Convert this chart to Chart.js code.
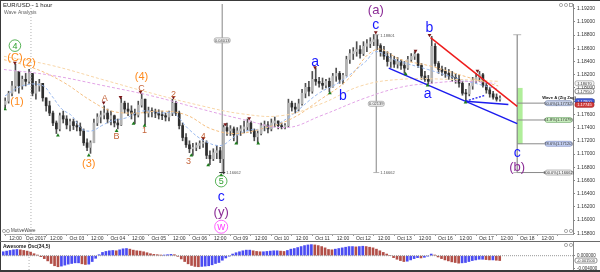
<!DOCTYPE html>
<html>
<head>
<meta charset="utf-8">
<script src="https://cdn.jsdelivr.net/npm/chart.js@4.4.1/dist/chart.umd.min.js"></script>
<style>
    body { margin: 0; background: #fff; }
    #wrap { position: relative; width: 600px; height: 272px; overflow: hidden; background: #fff; }
    #priceChart { position: absolute; left: 0; top: 0; }
    #oscChart { position: absolute; left: 0; top: 242px; }
    .edge { position: absolute; background: #3a3a3a; }
</style>
</head>
<body>
<div id="wrap">
    <canvas id="priceChart" width="600" height="242"></canvas>
    <canvas id="oscChart" width="600" height="28"></canvas>
    <div class="edge" style="left:0;top:0;width:600px;height:1px"></div>
    <div class="edge" style="left:0;top:0;width:1px;height:272px"></div>
    <div class="edge" style="left:0;top:241px;width:600px;height:1px;background:#6a6a6a"></div>
    <div class="edge" style="left:0;top:270px;width:600px;height:2px"></div>
</div>
<script>
// EUR/USD, 2-hour candles (hour 0 = Oct 02 00:00, weekends removed)
const candleStartHour = -18;
const candleStepHours = 2;
const firstOpen = 1.1775;

const closes = [
    1.1780, 1.1792, 1.1803, 1.1825, 1.1803, 1.1813, 1.1810, 1.1822, 1.1792, 1.1803,
    1.1807, 1.1785, 1.1773, 1.1762, 1.1747, 1.1738, 1.1758, 1.1753, 1.1744, 1.1749,
    1.1743, 1.1741, 1.1735, 1.1717, 1.1710, 1.1717, 1.1747, 1.1756, 1.1759, 1.1762,
    1.1753, 1.1758, 1.1747, 1.1744, 1.1777, 1.1768, 1.1765, 1.1762, 1.1759, 1.1774,
    1.1783, 1.1762, 1.1765, 1.1764, 1.1762, 1.1759, 1.1758, 1.1756, 1.1762, 1.1777,
    1.1762, 1.1743, 1.1725, 1.1714, 1.1708, 1.1710, 1.1713, 1.1716, 1.1717, 1.1698,
    1.1693, 1.1702, 1.1705, 1.1693, 1.1740, 1.1735, 1.1738, 1.1729, 1.1735, 1.1738,
    1.1741, 1.1747, 1.1735, 1.1726, 1.1731, 1.1743, 1.1744, 1.1738, 1.1747, 1.1750,
    1.1743, 1.1741, 1.1743, 1.1777, 1.1771, 1.1768, 1.1776, 1.1792, 1.1801, 1.1795,
    1.1813, 1.1810, 1.1807, 1.1804, 1.1810, 1.1801, 1.1818, 1.1822, 1.1813, 1.1819,
    1.1843, 1.1852, 1.1855, 1.1858, 1.1852, 1.1863, 1.1867, 1.1870, 1.1873, 1.1864,
    1.1855, 1.1848, 1.1840, 1.1843, 1.1836, 1.1840, 1.1834, 1.1830, 1.1843, 1.1848,
    1.1851, 1.1834, 1.1818, 1.1813, 1.1810, 1.1863, 1.1837, 1.1828, 1.1825, 1.1822,
    1.1818, 1.1816, 1.1813, 1.1807, 1.1792, 1.1791, 1.1803, 1.1812, 1.1816, 1.1820,
    1.1804, 1.1797, 1.1791, 1.1786, 1.1783, 1.1783
];
const highs = [
    1.1785, 1.1795, 1.1810, 1.1836, 1.1822, 1.1818, 1.1822, 1.1828, 1.1818, 1.1810,
    1.1813, 1.1807, 1.1783, 1.1780, 1.1765, 1.1750, 1.1762, 1.1765, 1.1758, 1.1753,
    1.1753, 1.1750, 1.1747, 1.1738, 1.1723, 1.1720, 1.1753, 1.1761, 1.1765, 1.1773,
    1.1768, 1.1765, 1.1759, 1.1753, 1.1785, 1.1780, 1.1777, 1.1773, 1.1768, 1.1780,
    1.1792, 1.1783, 1.1771, 1.1770, 1.1768, 1.1767, 1.1765, 1.1762, 1.1765, 1.1783,
    1.1780, 1.1765, 1.1747, 1.1731, 1.1720, 1.1716, 1.1717, 1.1720, 1.1723, 1.1720,
    1.1705, 1.1708, 1.1713, 1.1710, 1.1744, 1.1747, 1.1743, 1.1741, 1.1740, 1.1743,
    1.1750, 1.1753, 1.1750, 1.1738, 1.1735, 1.1747, 1.1750, 1.1749, 1.1753, 1.1756,
    1.1750, 1.1747, 1.1746, 1.1783, 1.1780, 1.1777, 1.1783, 1.1798, 1.1807, 1.1810,
    1.1825, 1.1830, 1.1816, 1.1815, 1.1813, 1.1815, 1.1822, 1.1830, 1.1825, 1.1822,
    1.1848, 1.1858, 1.1861, 1.1870, 1.1864, 1.1870, 1.1873, 1.1876, 1.1881, 1.1880,
    1.1867, 1.1863, 1.1855, 1.1852, 1.1848, 1.1846, 1.1843, 1.1840, 1.1848, 1.1852,
    1.1855, 1.1852, 1.1837, 1.1825, 1.1819, 1.1878, 1.1867, 1.1840, 1.1833, 1.1831,
    1.1828, 1.1825, 1.1822, 1.1819, 1.1810, 1.1798, 1.1807, 1.1816, 1.1822, 1.1825,
    1.1822, 1.1807, 1.1801, 1.1795, 1.1791, 1.1788
];
const lows = [
    1.1770, 1.1777, 1.1788, 1.1795, 1.1792, 1.1798, 1.1803, 1.1807, 1.1788, 1.1783,
    1.1795, 1.1780, 1.1765, 1.1758, 1.1743, 1.1731, 1.1735, 1.1747, 1.1738, 1.1735,
    1.1737, 1.1735, 1.1728, 1.1713, 1.1705, 1.1701, 1.1717, 1.1743, 1.1747, 1.1753,
    1.1747, 1.1744, 1.1741, 1.1738, 1.1743, 1.1762, 1.1758, 1.1753, 1.1746, 1.1756,
    1.1771, 1.1744, 1.1756, 1.1756, 1.1755, 1.1753, 1.1752, 1.1750, 1.1750, 1.1758,
    1.1758, 1.1738, 1.1720, 1.1710, 1.1702, 1.1698, 1.1705, 1.1708, 1.1710, 1.1693,
    1.1684, 1.1690, 1.1693, 1.1687, 1.1670, 1.1728, 1.1728, 1.1720, 1.1716, 1.1728,
    1.1732, 1.1735, 1.1731, 1.1720, 1.1717, 1.1729, 1.1735, 1.1732, 1.1735, 1.1741,
    1.1738, 1.1738, 1.1738, 1.1741, 1.1765, 1.1762, 1.1765, 1.1774, 1.1785, 1.1788,
    1.1792, 1.1804, 1.1801, 1.1798, 1.1800, 1.1794, 1.1801, 1.1810, 1.1807, 1.1806,
    1.1818, 1.1837, 1.1843, 1.1848, 1.1845, 1.1849, 1.1855, 1.1861, 1.1864, 1.1858,
    1.1848, 1.1843, 1.1833, 1.1831, 1.1831, 1.1830, 1.1828, 1.1822, 1.1828, 1.1840,
    1.1843, 1.1831, 1.1813, 1.1810, 1.1806, 1.1807, 1.1833, 1.1822, 1.1819, 1.1816,
    1.1813, 1.1810, 1.1807, 1.1801, 1.1789, 1.1780, 1.1788, 1.1798, 1.1807, 1.1810,
    1.1801, 1.1792, 1.1786, 1.1783, 1.1780, 1.1780
];
// Awesome Oscillator (34,5)
const aoValues = [
    0.0012, 0.0014, 0.0016, 0.0018, 0.0019, 0.0018, 0.0016, 0.0014, 0.0011, 0.0006,
    0.0002, -0.0003, -0.0009, -0.0016, -0.0024, -0.0031, -0.0034, -0.0032, -0.0029, -0.0026,
    -0.0024, -0.0022, -0.0022, -0.0025, -0.0027, -0.0026, -0.0018, -0.0008, 0.0003, 0.0010,
    0.0013, 0.0015, 0.0016, 0.0015, 0.0018, 0.0021, 0.0022, 0.0020, 0.0017, 0.0015,
    0.0014, 0.0012, 0.0009, 0.0006, 0.0004, 0.0003, 0.0002, 0.0002, 0.0003, 0.0004,
    0.0003, -0.0002, -0.0010, -0.0018, -0.0025, -0.0030, -0.0033, -0.0034, -0.0033, -0.0032,
    -0.0031, -0.0028, -0.0024, -0.0021, -0.0014, -0.0007, -0.0001, 0.0005, 0.0009, 0.0012,
    0.0015, 0.0017, 0.0017, 0.0015, 0.0013, 0.0012, 0.0012, 0.0013, 0.0014, 0.0015,
    0.0015, 0.0014, 0.0013, 0.0016, 0.0020, 0.0022, 0.0025, 0.0028, 0.0031, 0.0033,
    0.0034, 0.0033, 0.0031, 0.0028, 0.0024, 0.0019, 0.0018, 0.0020, 0.0022, 0.0024,
    0.0026, 0.0028, 0.0028, 0.0027, 0.0028, 0.0029, 0.0028, 0.0026, 0.0024, 0.0020,
    0.0015, 0.0010, 0.0005, 0.0000, -0.0006, -0.0011, -0.0015, -0.0018, -0.0017, -0.0013,
    -0.0009, -0.0006, -0.0007, -0.0005, -0.0001, 0.0005, 0.0002, -0.0004, -0.0009, -0.0013,
    -0.0016, -0.0019, -0.0021, -0.0023, -0.0022, -0.0021, -0.0018, -0.0015, -0.0013, -0.0011,
    -0.0011, -0.0012, -0.0013, -0.0013, -0.0014, -0.0015
];

// moving averages (dashed), read at a few points
const maFastHours = [-18.1, -8.2, 3.5, 9.3, 15.2, 21.0, 26.9, 32.7, 38.6, 44.4, 53.2, 61.9, 73.6, 80.6, 89.4, 98.7, 108.6, 115.7, 123.2, 132.0, 139.6, 149.5, 165.3, 178.7, 193.3, 199.2, 209.7, 229.6, 248.8, 271.0];
const maFastPrices = [1.1788, 1.1803, 1.1804, 1.1788, 1.1768, 1.1758, 1.1738, 1.1735, 1.1743, 1.1750, 1.1755, 1.1765, 1.1762, 1.1762, 1.1738, 1.1720, 1.1713, 1.1725, 1.1735, 1.1738, 1.1743, 1.1758, 1.1791, 1.1810, 1.1840, 1.1855, 1.1843, 1.1828, 1.1813, 1.1798];
const maMidHours = [-19, -2.3, 15.2, 32.7, 44.4, 59.0, 73.6, 88.2, 102.8, 117.4, 132.0, 149.5, 167.1, 181.7, 199.2, 213.8, 231.3, 254.7, 271.0];
const maMidPrices = [1.1843, 1.1831, 1.1810, 1.1780, 1.1765, 1.1762, 1.1765, 1.1759, 1.1738, 1.1731, 1.1738, 1.1753, 1.1783, 1.1810, 1.1858, 1.1843, 1.1833, 1.1815, 1.1803];
const maSlowHours = [-19, 9.3, 38.6, 67.8, 97.0, 120.3, 143.7, 167.1, 190.4, 213.8, 243.0, 271.0];
const maSlowPrices = [1.1848, 1.1834, 1.1813, 1.1792, 1.1773, 1.1761, 1.1758, 1.1776, 1.1803, 1.1813, 1.1813, 1.1810];
const maLongHours = [-19, 9.3, 38.6, 67.8, 97.0, 120.3, 146.6, 167.1, 193.3, 213.8, 231.3, 248.8, 269.3];
const maLongPrices = [1.1828, 1.1819, 1.1804, 1.1788, 1.1768, 1.1753, 1.1740, 1.1758, 1.1785, 1.1801, 1.1807, 1.1810, 1.1807];

// swing markers
const peakHours = [-12.3, 39.7, 49.6, 61.3, 80.6, 98.1, 111.0, 125.0, 163.6, 199.2, 222.5, 230.7, 258.8];
const peakPrices = [1.1838, 1.1778, 1.1786, 1.1794, 1.1786, 1.1724, 1.1745, 1.1754, 1.1831, 1.1884, 1.1856, 1.1880, 1.1826];
const troughHours = [-18.1, 12.9, 31.0, 47.3, 57.2, 63.7, 91.1, 101.0, 108.6, 117.4, 130.3, 172.3, 216.7, 229.6, 251.8];
const troughPrices = [1.1768, 1.1728, 1.1698, 1.1735, 1.1746, 1.1743, 1.1698, 1.1683, 1.1668, 1.1716, 1.1716, 1.1792, 1.1821, 1.1804, 1.1778];

// Elliott wave labels
const waveText = ['4', '(C)', '(2)', '(1)', 'A', 'B', '(3)', '(4)', 'C', '1', '2', '3', '4', '5', 'c', '(y)', 'w', 'a', 'b', '(a)', 'c', 'b', 'a', 'c', '(b)'];
const waveHour = [-12.3, -12.3, -4.1, -11.1, 40.3, 47.3, 31.0, 61.9, 61.9, 63.7, 80.6, 89.4, 98.1, 108.6, 108.6, 108.6, 108.6, 163.6, 179.9, 199.2, 199.2, 230.7, 229.6, 282.1, 282.1];
const wavePrice = [1.1864, 1.1846, 1.1839, 1.1780, 1.1785, 1.1728, 1.1686, 1.1818, 1.1800, 1.1737, 1.1791, 1.1690, 1.1728, 1.1659, 1.1635, 1.1612, 1.1590, 1.1840, 1.1788, 1.1918, 1.1896, 1.1891, 1.1791, 1.1702, 1.1680];
const waveDegree = ['primary', 'intermediate', 'intermediate', 'intermediate', 'minor', 'minor', 'intermediate', 'intermediate', 'minor', 'minor', 'minor', 'minor', 'minor', 'primary', 'minute', 'minuette', 'cycle', 'minute', 'minute', 'minuette', 'minute', 'minute', 'minute', 'minute', 'minuette'];

// trend channel
const redLineHours = [231.3, 282.1];
const redLinePrices = [1.1876, 1.1772];
const blueLineHours = [206.8, 282.1];
const blueLinePrices = [1.1830, 1.1746];
const blueShortHours = [251.8, 276.9];
const blueShortPrices = [1.1780, 1.1775];
const blueDotHours = [251.8, 263.4];
const blueDotPrices = [1.1780, 1.1789];

// measure tools
const measureHours = [109.2, 199.5];
const measureTops = [1.1935, 1.18805];
const measureBottoms = [1.1672, 1.1672];
const measureLabelPrices = [1.1872, 1.1776];
const measureTexts = ['0.04013', '0.02139'];

// wave c projection
const fibHour = 282.1;
const fibEndHour = 298.5;
const fibTop = 1.18805;
const fibBottom = 1.1672;
const fibZoneTop = 1.17995;
const fibZoneBottom = 1.17155;
const fibPrices = [1.1777, 1.17515, 1.17155, 1.1672];
const fibTexts = ['50.0%(1.17732)', '61.8%(1.17479)', '78.6%(1.17120)', '100.0%(1.16662)'];

const priceTicks = [1.158, 1.160, 1.162, 1.164, 1.166, 1.168, 1.170, 1.172, 1.174, 1.176, 1.178, 1.180, 1.182, 1.184, 1.186, 1.188, 1.190, 1.192];
const axisMarkPrices = [1.1807, 1.1795, 1.1780, 1.17745];
const axisMarkTexts = ['1.18070', '1.17950', '1.17800', '1.17745'];
const oscTicks = [-0.004, 0];

const timeTickHours = [-12, 0, 12, 24, 36, 48, 60, 72, 84, 96, 108, 120, 132, 144, 156, 168, 180, 192, 204, 216, 228, 240, 252, 264, 276, 288, 300];
const timeTickLabels = ['12:00', 'Oct 2017', '12:00', 'Oct 03', '12:00', 'Oct 04', '12:00', 'Oct 05', '12:00', 'Oct 06', '12:00', 'Oct 09', '12:00', 'Oct 10', '12:00', 'Oct 11', '12:00', 'Oct 12', '12:00', 'Oct 13', '12:00', 'Oct 16', '12:00', 'Oct 17', '12:00', 'Oct 18', '12:00'];
const monthStartHour = -2.9;

const xMin = -18.7, xMax = 314.8;
const yMin = 1.1579, yMax = 1.1927;
const oscMin = -0.0044, oscMax = 0.0042;

const FONT = '"Liberation Sans", Arial, sans-serif';

const candleHours = closes.map((c, i) => candleStartHour + i * candleStepHours);
const opens = closes.map((c, i) => i == 0 ? firstOpen : closes[i - 1]);

function pts(xs, ys) {
    return xs.map((x, i) => ({ x: x, y: ys[i] }));
}

function lineSet(xs, ys, color, width, dash, order) {
    return {
        type: 'line', data: pts(xs, ys), borderColor: color, borderWidth: width,
        borderDash: dash || [], pointRadius: 0, tension: 0, order: order || 5
    };
}

function maSet(xs, ys, color) {
    let d = lineSet(xs, ys, color, 1, [3, 2], 8);
    d.tension = 0.4;
    return d;
}

function txt(ctx, s, x, y, size, color, align, weight) {
    ctx.font = (weight || 'normal') + ' ' + size + 'px ' + FONT;
    ctx.fillStyle = color;
    ctx.textAlign = align || 'center';
    ctx.textBaseline = 'middle';
    ctx.fillText(s, x, y);
}

function tag(ctx, x, y, w, h, fill, stroke, s, color) {
    ctx.beginPath();
    if (ctx.roundRect) ctx.roundRect(x, y - h / 2, w, h, 2); else ctx.rect(x, y - h / 2, w, h);
    ctx.fillStyle = fill;
    ctx.fill();
    ctx.strokeStyle = stroke;
    ctx.lineWidth = 0.7;
    ctx.stroke();
    txt(ctx, s, x + w / 2, y + 0.3, 4, color);
}

function dots(ctx, xs, y) {
    ctx.strokeStyle = '#888';
    ctx.lineWidth = 0.7;
    xs.forEach(x => { ctx.beginPath(); ctx.arc(x, y, 1.6, 0, Math.PI * 2); ctx.stroke(); });
}

const degreeStyle = {
    primary: { color: '#2ea02e', size: 9, ring: 5.8 },
    intermediate: { color: '#ff8a1c', size: 11 },
    minor: { color: '#c4643a', size: 9 },
    minute: { color: '#1818ff', size: 14 },
    minuette: { color: '#8b2c96', size: 13 },
    cycle: { color: '#ff3cff', size: 11, ring: 6.5 }
};

const priceNotes = {
    id: 'priceNotes',
    afterDatasetsDraw(chart) {
        const ctx = chart.ctx;
        const x = chart.scales.x, y = chart.scales.y;
        const area = chart.chartArea;
        ctx.save();

        waveText.forEach((t, i) => {
            let st = degreeStyle[waveDegree[i]];
            let px = x.getPixelForValue(waveHour[i]);
            let py = y.getPixelForValue(wavePrice[i]);
            if (st.ring) {
                ctx.beginPath();
                ctx.arc(px, py, st.ring, 0, Math.PI * 2);
                ctx.strokeStyle = st.color;
                ctx.lineWidth = 0.8;
                ctx.stroke();
            }
            txt(ctx, t, px, py + 0.5, st.size, st.color);
        });

        // brackets of the measure lines
        ctx.strokeStyle = '#333';
        ctx.lineWidth = 1;
        measureHours.forEach((h, i) => {
            let px = x.getPixelForValue(h);
            [measureTops[i], measureBottoms[i]].forEach(p => {
                if (p > yMax) return;
                let py = y.getPixelForValue(p);
                ctx.beginPath(); ctx.moveTo(px - 3, py); ctx.lineTo(px + 3, py); ctx.stroke();
            });
            tag(ctx, px - 8, y.getPixelForValue(measureLabelPrices[i]), 16, 5, '#f2f2f2', '#999', measureTexts[i], '#444');
            txt(ctx, '1.16662', px + 4, y.getPixelForValue(measureBottoms[i]), 4, '#555', 'left');
        });
        txt(ctx, '1.18801', x.getPixelForValue(measureHours[1]) + 4, y.getPixelForValue(measureTops[1]) + 1, 4, '#555', 'left');

        let fx = x.getPixelForValue(fibHour);
        [fibTop, fibBottom].forEach(p => {
            let py = y.getPixelForValue(p);
            ctx.beginPath(); ctx.moveTo(fx - 4, py); ctx.lineTo(fx + 4, py); ctx.stroke();
        });

        // projection level tags
        const tagFill = ['#c9d3ea', '#c6ecbc', '#c4d0f2', '#f4f4f4'];
        const tagLine = ['#7f8fb5', '#7fb27a', '#8494c8', '#999'];
        let bx = x.getPixelForValue(fibEndHour);
        fibPrices.forEach((p, i) => {
            tag(ctx, bx, y.getPixelForValue(p), area.right - 1 - bx, 5, tagFill[i], tagLine[i], fibTexts[i], '#333');
        });
        txt(ctx, 'Wave A (Zig Zag)', (bx + area.right) / 2, y.getPixelForValue(fibPrices[0]) - 5, 4.2, '#222', 'center', 'bold');

        // price axis tags
        const markFill = ['#f7f7f7', '#ffffff', '#3f58d6', '#d23a3a'];
        const markLine = ['#999', '#555', '#2a3fa8', '#a02020'];
        const markText = ['#333', '#333', '#fff', '#fff'];
        axisMarkPrices.forEach((p, i) => {
            tag(ctx, area.right + 2, y.getPixelForValue(p), 19, 5, markFill[i], markLine[i], axisMarkTexts[i], markText[i]);
        });

        txt(ctx, 'EUR/USD - 1 hour', 3, 5, 6, '#222', 'left');
        txt(ctx, 'Wave Analysis', 4, 12.5, 5, '#666', 'left');
        dots(ctx, [4, 8], area.bottom - 3);
        txt(ctx, 'MotiveWave', 11, area.bottom - 3, 4.5, '#444', 'left');
        dots(ctx, [561, 566], 5);
        dots(ctx, [566, 571], area.bottom - 3);
        ctx.strokeStyle = '#888';
        ctx.strokeRect(569.5, 3.5, 3, 3);
        ctx.restore();
    }
};

const oscNotes = {
    id: 'oscNotes',
    afterDatasetsDraw(chart) {
        const ctx = chart.ctx;
        const y = chart.scales.y;
        const area = chart.chartArea;
        ctx.save();
        txt(ctx, 'Awesome Osc(34,5)', 3, 4.5, 5, '#222', 'left', 'bold');
        let last = aoValues[aoValues.length - 1];
        tag(ctx, area.right + 2, y.getPixelForValue(last), 22, 5, '#fff', '#666', last.toFixed(6), '#333');
        dots(ctx, [566, 571], 3);
        ctx.restore();
    }
};

const wicks = candleHours.map((h, i) => ({ x: h, y: [Math.min(lows[i], opens[i], closes[i]), Math.max(highs[i], opens[i], closes[i])] }));
const bodies = candleHours.map((h, i) => ({ x: h, y: [opens[i], closes[i]] }));
const bodyColors = closes.map((c, i) => c >= opens[i] ? '#b3b3b3' : '#2e2e2e');

const xScale = {
    type: 'linear', min: xMin, max: xMax, offset: false,
    afterBuildTicks: (s) => { s.ticks = timeTickHours.map(v => ({ value: v })); },
    afterFit: (s) => { s.height = 8; s.paddingLeft = 0; s.paddingRight = 0; },
    ticks: {
        autoSkip: false, maxRotation: 0, minRotation: 0, padding: 0, color: '#333',
        font: { size: 5, family: FONT },
        callback: (v, i) => timeTickLabels[i]
    },
    grid: { drawOnChartArea: false, tickLength: 2, color: '#999' },
    border: { color: '#aaa' }
};

new Chart(document.getElementById('priceChart'), {
    type: 'bar',
    data: {
        datasets: [
            { type: 'bar', data: wicks, backgroundColor: '#505050', barThickness: 1, grouped: false, order: 11 },
            { type: 'bar', data: bodies, backgroundColor: bodyColors, barThickness: 2, grouped: false, minBarLength: 1, order: 10 },
            { type: 'bar', data: [{ x: fibHour + 1.5, y: [fibZoneBottom, fibZoneTop] }], backgroundColor: 'rgba(150,232,120,0.75)', barThickness: 5, grouped: false, order: 12 },
            maSet(maLongHours, maLongPrices, '#e2a4e6'),
            maSet(maSlowHours, maSlowPrices, '#f8d6a8'),
            maSet(maMidHours, maMidPrices, '#f5bf80'),
            maSet(maFastHours, maFastPrices, '#98b8ee'),
            lineSet([monthStartHour, monthStartHour], [yMin, yMax], '#b0b0b0', 1, [1, 2], 9),
            lineSet([measureHours[0], measureHours[0]], [measureTops[0], measureBottoms[0]], '#9a9a9a', 1.2, [], 9),
            lineSet([measureHours[1], measureHours[1]], [measureTops[1], measureBottoms[1]], '#9a9a9a', 1.2, [], 9),
            lineSet([fibHour, fibHour], [fibTop, fibBottom], '#8a8a8a', 1.2, [], 6),
            lineSet([fibHour, fibEndHour], [fibPrices[0], fibPrices[0]], '#8a8a8a', 1, [], 6),
            lineSet([fibHour, fibEndHour], [fibPrices[1], fibPrices[1]], '#8a8a8a', 1, [], 6),
            lineSet([fibHour, fibEndHour], [fibPrices[2], fibPrices[2]], '#8a8a8a', 1, [], 6),
            lineSet([fibHour, fibEndHour], [fibPrices[3], fibPrices[3]], '#8a8a8a', 1, [], 6),
            lineSet(redLineHours, redLinePrices, '#ee1c1c', 1.5, [], 4),
            lineSet(blueLineHours, blueLinePrices, '#1c1cee', 1.5, [], 4),
            lineSet(blueShortHours, blueShortPrices, '#1c1cee', 1.5, [], 4),
            lineSet(blueDotHours, blueDotPrices, '#1c1cee', 1.3, [2, 1.5], 4),
            {
                type: 'scatter', data: pts(peakHours, peakPrices), pointStyle: 'triangle', rotation: 180,
                pointRadius: 2.2, backgroundColor: '#7a1818', borderWidth: 0, order: 1
            },
            {
                type: 'scatter', data: pts(troughHours, troughPrices), pointStyle: 'triangle',
                pointRadius: 2.2, backgroundColor: '#1b7a1b', borderWidth: 0, order: 1
            }
        ]
    },
    options: {
        responsive: false,
        animation: false,
        devicePixelRatio: 1,
        layout: { padding: { left: 2, top: 2, right: 0, bottom: 0 } },
        plugins: { legend: { display: false }, tooltip: { enabled: false } },
        scales: {
            x: xScale,
            y: {
                position: 'right', min: yMin, max: yMax,
                afterBuildTicks: (s) => { s.ticks = priceTicks.map(v => ({ value: v })); },
                afterFit: (s) => { s.width = 27; s.paddingTop = 0; s.paddingBottom = 0; },
                ticks: { padding: 2, color: '#333', font: { size: 5, family: FONT }, callback: v => v.toFixed(5) },
                grid: { drawOnChartArea: false, tickLength: 2, color: '#888' },
                border: { color: '#888' }
            }
        }
    },
    plugins: [priceNotes]
});

const aoBars = candleHours.map((h, i) => ({ x: h, y: aoValues[i] }));
const aoColors = aoValues.map((v, i) => (i == 0 || v >= aoValues[i - 1]) ? '#4b4cf2' : '#b24f48');

new Chart(document.getElementById('oscChart'), {
    type: 'bar',
    data: {
        datasets: [
            { type: 'bar', data: aoBars, backgroundColor: aoColors, barThickness: 2, grouped: false, order: 5 },
            lineSet([xMin, xMax], [0, 0], '#999', 1, [1, 1], 2),
            lineSet([monthStartHour, monthStartHour], [oscMin, oscMax], '#b0b0b0', 1, [1, 2], 3)
        ]
    },
    options: {
        responsive: false,
        animation: false,
        devicePixelRatio: 1,
        layout: { padding: { left: 2, top: 0, right: 0, bottom: 0 } },
        plugins: { legend: { display: false }, tooltip: { enabled: false } },
        scales: {
            x: { type: 'linear', min: xMin, max: xMax, offset: false, display: false },
            y: {
                position: 'right', min: oscMin, max: oscMax,
                afterBuildTicks: (s) => { s.ticks = oscTicks.map(v => ({ value: v })); },
                afterFit: (s) => { s.width = 27; s.paddingTop = 0; s.paddingBottom = 0; },
                ticks: { padding: 2, color: '#333', font: { size: 4.5, family: FONT }, callback: v => v.toFixed(6) },
                grid: { drawOnChartArea: false, tickLength: 2, color: '#888' },
                border: { color: '#888' }
            }
        }
    },
    plugins: [oscNotes]
});
</script>
</body>
</html>
